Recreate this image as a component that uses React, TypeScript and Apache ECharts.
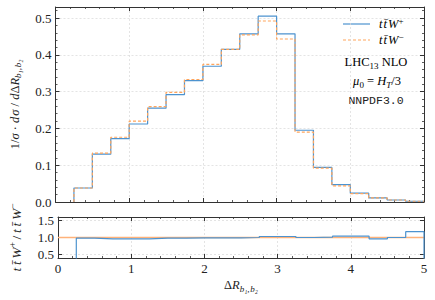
import React, { useEffect, useRef } from 'react';
import * as echarts from 'echarts';

const binEdges = [0, 0.25, 0.5, 0.75, 1, 1.25, 1.5, 1.75, 2, 2.25, 2.5, 2.75, 3, 3.25, 3.5, 3.75, 4, 4.25, 4.5, 4.75, 5];
const ttWplus = [0, 0.038, 0.13, 0.172, 0.212, 0.255, 0.292, 0.33, 0.369, 0.415, 0.457, 0.505, 0.457, 0.195, 0.094, 0.047, 0.024, 0.011, 0.0055, 0.002];
const ttWminus = [0, 0.038, 0.133, 0.176, 0.22, 0.259, 0.298, 0.333, 0.374, 0.415, 0.454, 0.492, 0.443, 0.19, 0.092, 0.044, 0.023, 0.011, 0.0055, 0.002];
const ratioPlus = [0, 0.98, 0.96, 0.96, 0.96, 0.98, 0.98, 0.99, 0.99, 0.99, 1.0, 1.03, 1.03, 1.0, 1.01, 1.04, 1.04, 0.96, 1.0, 1.17];
const ratioMinus = [1, 1, 1, 1, 1, 1, 1, 1, 1, 1, 1, 1, 1, 1, 1, 1, 1, 1, 1, 1];
const xTicks = [0, 1, 2, 3, 4, 5];
const ratioTicks = [0.5, 1.0, 1.5];

const BLUE = '#4d93cf';
const ORANGE = '#ffa55c';
const FRAME = '#333333';
const SERIF = '"Liberation Serif", "DejaVu Serif", serif';

// step-histogram points; leading empty bins start the outline at the first filled edge
function stepData(values: number[], tail?: number[][]) {
  const d: number[][] = [];
  let started = false;
  values.forEach((v, i) => {
    if (!started && v === 0) return;
    if (!started && i > 0) d.push([binEdges[i], 0]);
    started = true;
    d.push([binEdges[i], v]);
  });
  d.push([binEdges[binEdges.length - 1], values[values.length - 1]]);
  if (tail) tail.forEach((p) => d.push(p));
  return d;
}

const richBase: any = {
  r: { fontFamily: SERIF, fontSize: 12.5, color: '#222', lineHeight: 16 },
  i: { fontFamily: SERIF, fontSize: 12.5, fontStyle: 'italic', color: '#222', lineHeight: 16 },
  s: { fontFamily: SERIF, fontSize: 9, fontStyle: 'italic', color: '#222', verticalAlign: 'bottom', lineHeight: 9 },
  s2: { fontFamily: SERIF, fontSize: 9, color: '#222', verticalAlign: 'bottom', lineHeight: 9 },
  sup: { fontFamily: SERIF, fontSize: 9, color: '#222', verticalAlign: 'top', lineHeight: 9 },
  bi: { fontFamily: SERIF, fontSize: 13.5, fontStyle: 'italic', color: '#222', lineHeight: 17 },
  br: { fontFamily: SERIF, fontSize: 13.5, color: '#222', lineHeight: 17 },
  bsup: { fontFamily: SERIF, fontSize: 9.5, color: '#222', verticalAlign: 'top', lineHeight: 10 },
};

const TS = '\u2009';
const HS = '\u200A';

export default function App() {
  const ref = useRef<HTMLDivElement>(null);
  useEffect(() => {
    if (!ref.current) return;
    const chart = echarts.init(ref.current, undefined, { renderer: 'svg' });
    const commonX = (gridIndex: number, position: string, labels: boolean) => ({
      type: 'value',
      gridIndex,
      position,
      min: xTicks[0],
      max: xTicks[xTicks.length - 1],
      interval: 1,
      axisLine: { show: true, onZero: false, lineStyle: { color: FRAME, width: 1 } },
      axisTick: { show: true, inside: true, length: 4, lineStyle: { color: FRAME, width: 1 } },
      minorTick: { show: true, splitNumber: 5, length: 2, lineStyle: { color: FRAME, width: 0.8 } },
      axisLabel: { show: labels, fontFamily: SERIF, fontSize: 13, color: '#222', margin: 4 },
      splitLine: { show: position === 'bottom', lineStyle: { color: '#d8d8d8', type: [2, 2], width: 0.7 } },
    });
    const option: any = {
      animation: false,
      backgroundColor: '#ffffff',
      grid: [
        { left: 47, top: 7, width: 377, height: 195 },
        { left: 47, top: 217, width: 377, height: 41 },
      ],
      xAxis: [
        commonX(0, 'bottom', false),
        commonX(0, 'top', false),
        {
          ...commonX(1, 'bottom', true),
          name: `{r|Δ}{i|R}{s|b₁,${HS}b₂}`,
          nameLocation: 'middle',
          nameGap: 19,
          nameTextStyle: { rich: richBase },
        },
        commonX(1, 'top', false),
      ],
      yAxis: [
        {
          type: 'value',
          gridIndex: 0,
          position: 'left',
          min: 0,
          max: 0.53,
          interval: 0.1,
          axisLine: { show: true, onZero: false, lineStyle: { color: FRAME } },
          axisTick: { show: true, inside: true, length: 4, lineStyle: { color: FRAME } },
          minorTick: { show: true, splitNumber: 5, length: 2, lineStyle: { color: FRAME, width: 0.8 } },
          axisLabel: {
            fontFamily: SERIF, fontSize: 13, color: '#222', margin: 4, showMaxLabel: false,
            formatter: (v: number) => v.toFixed(1),
          },
          splitLine: { show: true, lineStyle: { color: '#d8d8d8', type: [2, 2], width: 0.7 } },
          name: `{r|1/}{i|σ}{r| · }{i|d${HS}σ}{r| / }{i|d}{r|Δ}{i|R}{s|b₁,${HS}b₂}`,
          nameLocation: 'middle',
          nameRotate: 90,
          nameGap: 33,
          nameTextStyle: { rich: richBase },
        },
        {
          type: 'value',
          gridIndex: 0,
          position: 'right',
          min: 0,
          max: 0.53,
          interval: 0.1,
          axisLine: { show: true, onZero: false, lineStyle: { color: FRAME } },
          axisTick: { show: true, inside: true, length: 4, lineStyle: { color: FRAME } },
          minorTick: { show: true, splitNumber: 5, length: 2, lineStyle: { color: FRAME, width: 0.8 } },
          axisLabel: { show: false },
          splitLine: { show: false },
        },
        {
          type: 'value',
          gridIndex: 1,
          position: 'left',
          min: 0.4,
          max: 1.6,
          axisLine: { show: true, onZero: false, lineStyle: { color: FRAME } },
          axisTick: { show: true, inside: true, length: 4, customValues: ratioTicks, lineStyle: { color: FRAME } },
          axisLabel: {
            fontFamily: SERIF, fontSize: 13, color: '#222', margin: 4, customValues: ratioTicks,
            formatter: (v: number) => v.toFixed(1),
          },
          splitLine: { show: true, lineStyle: { color: '#d8d8d8', type: [2, 2], width: 0.7 } },
          name: `{bi|t${TS}t̄${TS}W}{bsup|+}{br|${TS}/${TS}}{bi|t${TS}t̄${TS}W}{bsup|−}`,
          nameLocation: 'middle',
          nameRotate: 90,
          nameGap: 33,
          nameTextStyle: { rich: richBase },
        },
        {
          type: 'value',
          gridIndex: 1,
          position: 'right',
          min: 0.4,
          max: 1.6,
          axisLine: { show: true, onZero: false, lineStyle: { color: FRAME } },
          axisTick: { show: true, inside: true, length: 4, customValues: ratioTicks, lineStyle: { color: FRAME } },
          axisLabel: { show: false },
          splitLine: { show: false },
        },
      ],
      series: [
        {
          type: 'line', xAxisIndex: 0, yAxisIndex: 0, step: 'end', showSymbol: false,
          data: stepData(ttWplus), lineStyle: { color: BLUE, width: 1.2 }, z: 3,
        },
        {
          type: 'line', xAxisIndex: 0, yAxisIndex: 0, step: 'end', showSymbol: false,
          data: stepData(ttWminus), lineStyle: { color: ORANGE, width: 1.2, type: [3, 2] }, z: 4,
        },
        {
          type: 'line', xAxisIndex: 2, yAxisIndex: 2, step: 'end', showSymbol: false,
          data: stepData(ratioPlus, [[5, 0]]), lineStyle: { color: BLUE, width: 1.2 }, z: 3,
        },
        {
          type: 'line', xAxisIndex: 2, yAxisIndex: 2, step: 'end', showSymbol: false,
          data: stepData(ratioMinus), lineStyle: { color: '#ffb27a', width: 1.3 }, z: 2,
        },
      ],
      graphic: [
        { type: 'line', shape: { x1: 343, y1: 24, x2: 370, y2: 24 }, style: { stroke: BLUE, lineWidth: 1.2 } },
        { type: 'line', shape: { x1: 343, y1: 40, x2: 370, y2: 40 }, style: { stroke: ORANGE, lineWidth: 1.2, lineDash: [3, 2] } },
        {
          type: 'text', x: 379, y: 24,
          style: { text: `{i|t${HS}t̄${HS}W}{sup|+}`, rich: richBase, textAlign: 'left', textVerticalAlign: 'middle' },
        },
        {
          type: 'text', x: 379, y: 40,
          style: { text: `{i|t${HS}t̄${HS}W}{sup|−}`, rich: richBase, textAlign: 'left', textVerticalAlign: 'middle' },
        },
        {
          type: 'text', x: 376, y: 62,
          style: { text: '{r|LHC}{s2|13}{r| NLO}', rich: richBase, textAlign: 'center', textVerticalAlign: 'middle' },
        },
        {
          type: 'text', x: 377, y: 81,
          style: { text: '{i|μ}{s2|0}{r| = }{i|H}{s|T}{r|/3}', rich: richBase, textAlign: 'center', textVerticalAlign: 'middle' },
        },
        {
          type: 'text', x: 376, y: 100,
          style: { text: 'NNPDF3.0', font: '11.5px "Liberation Mono", "DejaVu Sans Mono", monospace', fill: '#222', textAlign: 'center', textVerticalAlign: 'middle' },
        },
      ],
    };
    chart.setOption(option);
    return () => chart.dispose();
  }, []);
  return <div ref={ref} style={{ position: 'fixed', left: 0, top: 0, width: 435, height: 300, background: '#fff' }} />;
}
